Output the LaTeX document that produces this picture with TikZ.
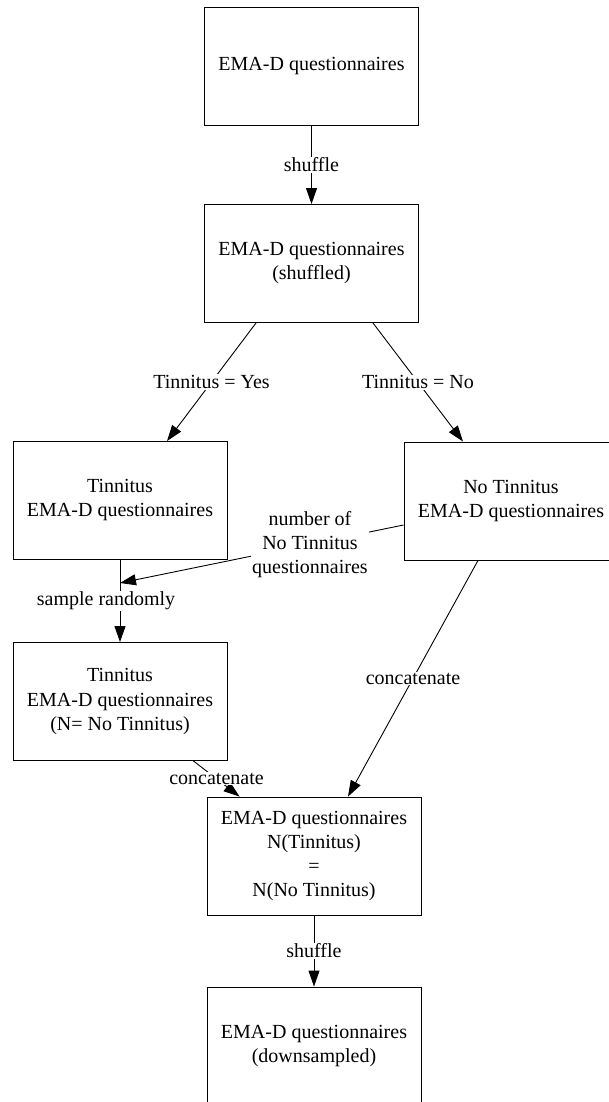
\documentclass[tikz,border=0pt]{standalone}
\usepackage{fontspec}
\setmainfont{Liberation Serif}
\usetikzlibrary{arrows.meta}

\begin{document}
\begin{tikzpicture}[x=1pt, y=-1pt, line width=0.9pt,
		>={Triangle[length=16pt,width=11pt]},
		every node/.style={font=\fontsize{20}{24}\selectfont, align=center},
		box/.style={draw, minimum width=214pt, minimum height=118pt, inner sep=0pt},
		lbl/.style={fill=white, inner sep=1pt}]
		\useasboundingbox (0,0) rectangle (608,1102);
		
		\node[box] (ema) at (311.5,66.5) {EMA-D questionnaires};
		\node[box] (shuf) at (311.5,263.5) {EMA-D questionnaires\\(shuffled)};
		\node[box] (tin) at (120,500.5) {Tinnitus\\EMA-D questionnaires};
		\node[box] (notin) at (511,501) {No Tinnitus\\EMA-D questionnaires};
		\node[box] (samp) at (120,701.5) {Tinnitus\\EMA-D questionnaires\\(N= No Tinnitus)};
		\node[box] (equal) at (314,856) {EMA-D questionnaires\\N(Tinnitus)\\=\\N(No Tinnitus)};
		\node[box] (down) at (314,1046) {EMA-D questionnaires\\(downsampled)};
		\coordinate (pick) at (120,583);
		
		\draw[->] (ema) -- node[lbl] {shuffle} (shuf);
		\draw[->] ([xshift=52pt]shuf.south west) -- node[lbl] {Tinnitus = Yes} ([xshift=47pt]tin.north);
		\draw[->] ([xshift=-46pt]shuf.south east) -- node[lbl] {Tinnitus = No} ([xshift=-48pt]notin.north);
		\draw[->] (tin) -- node[lbl, xshift=-14pt] {sample randomly} (samp);
		\draw[->] ([yshift=-24pt]notin.west) -- node[lbl, pos=0.33] {number of\\No Tinnitus\\questionnaires} (pick);
		\draw[->] ([xshift=-34pt]samp.south east) -- node[lbl] {concatenate} ([xshift=33pt]equal.north west);
		\draw[->] ([xshift=-33pt]notin.south) -- node[lbl] {concatenate} ([xshift=34pt]equal.north);
		\draw[->] (equal) -- node[lbl] {shuffle} (down);
	\end{tikzpicture}
\end{document}
